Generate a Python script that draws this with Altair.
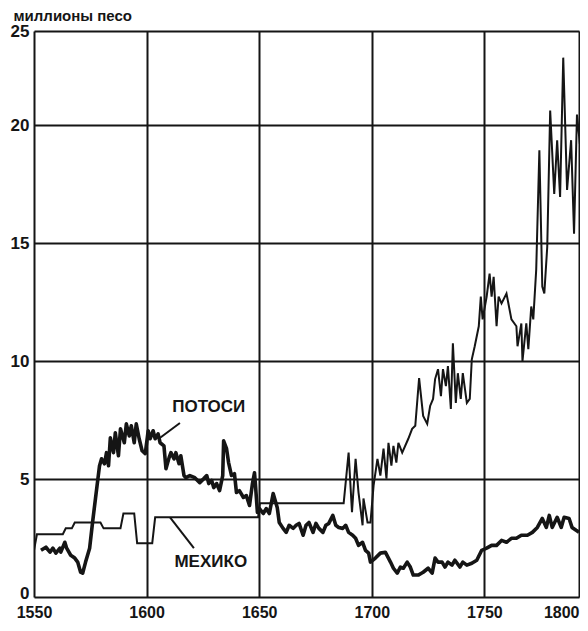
import altair as alt
import pandas as pd

# --- data ---
mex_years = [1550.0, 1551.3, 1562.8, 1564.1, 1566.8, 1568.1, 1579.5, 1580.9, 1588.4, 1589.7,
             1594.5, 1595.8, 1602.5, 1603.8, 1649.5, 1650.3, 1687.5, 1689.7, 1691.2, 1692.8,
             1694.1, 1695.9, 1696.3, 1698.1, 1699.4, 1700.8, 1702.5, 1703.8, 1705.2, 1706.5,
             1707.4, 1708.7, 1709.6, 1710.9, 1711.8, 1713.5, 1716.2, 1717.9, 1719.3, 1721.0,
             1722.8, 1724.6, 1725.9, 1727.2, 1728.1, 1729.4, 1730.7, 1731.6, 1732.9, 1733.8,
             1735.1, 1736.0, 1737.3, 1738.2, 1739.5, 1740.4, 1742.2, 1743.5, 1744.4, 1745.7,
             1747.5, 1748.4, 1749.2, 1751.0, 1752.3, 1753.2, 1754.1, 1755.4, 1756.3, 1757.6,
             1759.8, 1762.0, 1764.2, 1764.7, 1766.4, 1766.9, 1768.6, 1769.5, 1770.8, 1771.7,
             1773.0, 1774.4, 1775.7, 1776.6, 1777.9, 1779.2, 1781.0, 1782.3, 1783.6, 1785.0,
             1786.7, 1788.5, 1789.8, 1791.1, 1792.4]
mex_vals = [1.98, 2.66, 2.66, 2.91, 2.91, 3.16, 3.16, 2.91, 2.91, 3.54,
            3.54, 2.28, 2.28, 3.38, 3.38, 3.97, 3.97, 6.12, 3.60, 5.86,
            4.43, 3.04, 4.18, 3.16, 3.16, 4.73, 5.86, 5.15, 6.29, 5.02,
            6.54, 5.57, 6.41, 5.70, 6.54, 6.12, 6.71, 7.13, 7.26, 9.28,
            7.68, 7.34, 8.10, 8.40, 9.24, 9.66, 8.52, 9.66, 8.94, 9.79,
            7.97, 10.76, 8.23, 9.49, 8.40, 9.49, 8.23, 8.40, 10.08, 10.63,
            11.48, 12.74, 11.77, 12.74, 13.71, 12.74, 13.58, 11.48, 12.74, 12.45,
            12.87, 11.77, 11.48, 10.63, 11.60, 10.00, 11.60, 10.51, 12.32, 11.77,
            13.88, 18.94, 13.16, 12.87, 14.85, 20.63, 17.09, 19.37, 16.96, 22.87,
            17.26, 19.37, 15.40, 20.46, 19.20]

pot_years = [1553.1, 1555.3, 1557.1, 1558.4, 1559.7, 1561.5, 1561.9, 1563.7, 1564.5, 1566.3,
             1568.1, 1569.4, 1570.7, 1571.6, 1572.9, 1574.7, 1576.0, 1577.3, 1579.1, 1580.0,
             1581.3, 1582.2, 1583.1, 1583.9, 1585.3, 1586.1, 1587.5, 1588.4, 1590.1, 1591.0,
             1592.3, 1593.2, 1594.5, 1595.4, 1596.7, 1598.0, 1599.4, 1600.7, 1601.6, 1602.9,
             1603.8, 1605.1, 1606.0, 1607.7, 1608.6, 1610.0, 1610.8, 1612.2, 1613.0, 1614.4,
             1615.2, 1616.6, 1617.4, 1619.2, 1621.4, 1623.6, 1625.4, 1626.7, 1627.6, 1628.9,
             1629.8, 1631.1, 1632.4, 1633.8, 1634.2, 1635.5, 1636.4, 1637.7, 1639.0, 1639.9,
             1641.2, 1643.0, 1644.3, 1645.7, 1647.0, 1647.9, 1648.3, 1649.2, 1650.1, 1651.8,
             1653.1, 1654.5, 1656.2, 1658.0, 1658.9, 1660.6, 1662.0, 1663.3, 1665.1, 1666.4,
             1667.7, 1669.5, 1670.8, 1672.1, 1673.9, 1675.2, 1676.5, 1678.3, 1679.6, 1680.9,
             1682.7, 1684.0, 1685.3, 1687.1, 1688.4, 1689.7, 1691.5, 1692.8, 1694.1, 1695.9,
             1697.2, 1698.6, 1699.4, 1701.6, 1703.8, 1706.0, 1708.3, 1709.6, 1711.3, 1712.7,
             1714.0, 1715.7, 1717.1, 1718.4, 1720.6, 1722.8, 1725.0, 1726.8, 1728.1, 1729.4,
             1731.2, 1732.5, 1733.8, 1735.6, 1736.9, 1739.1, 1740.4, 1742.2, 1744.4, 1746.6,
             1748.8, 1751.0, 1753.2, 1755.4, 1757.6, 1759.8, 1762.0, 1764.2, 1766.4, 1769.1,
             1771.3, 1773.5, 1775.7, 1777.5, 1778.8, 1780.1, 1782.3, 1784.1, 1785.4, 1787.6,
             1788.9, 1790.7, 1792.0]
pot_vals = [1.98, 2.11, 1.90, 2.07, 1.86, 2.07, 1.90, 2.32, 2.07, 1.77,
            1.65, 1.48, 1.05, 1.01, 1.48, 2.07, 3.16, 4.18, 5.57, 5.86,
            5.65, 6.12, 5.57, 6.75, 6.12, 6.96, 5.99, 7.13, 6.54, 7.34,
            6.83, 7.26, 6.54, 7.34, 6.71, 6.20, 6.08, 7.05, 6.71, 7.05,
            6.71, 6.92, 6.54, 6.41, 5.44, 5.91, 6.12, 5.86, 6.12, 5.65,
            5.99, 5.15, 5.06, 5.15, 5.06, 4.85, 5.02, 5.15, 4.81, 4.94,
            4.64, 4.81, 4.51, 5.15, 6.62, 6.29, 5.70, 5.15, 5.23, 4.43,
            4.51, 4.22, 4.30, 3.88, 4.81, 5.27, 4.81, 3.59, 3.75, 3.54,
            3.75, 3.54, 4.39, 3.80, 3.16, 2.91, 2.74, 3.04, 2.91, 3.04,
            3.12, 2.62, 3.04, 3.16, 2.74, 3.12, 2.91, 2.74, 3.04, 3.12,
            3.46, 3.04, 2.95, 2.91, 3.04, 2.74, 2.62, 2.49, 2.19, 2.32,
            1.98, 1.86, 1.48, 1.65, 1.86, 1.90, 1.48, 1.22, 1.01, 1.27,
            1.22, 1.48, 1.27, 0.93, 0.93, 1.05, 1.22, 1.01, 1.65, 1.48,
            1.48, 1.27, 1.48, 1.35, 1.56, 1.27, 1.48, 1.35, 1.43, 1.56,
            1.98, 2.07, 2.19, 2.19, 2.40, 2.32, 2.49, 2.49, 2.62, 2.62,
            2.74, 2.95, 3.33, 2.95, 3.46, 2.95, 3.38, 2.95, 3.38, 3.33,
            2.95, 2.83, 2.75]

label_texts = ["ПОТОСИ", "МЕХИКО"]
label_x = [1627.6, 1628.5]
label_y = [8.06, 1.48]

pointer_x = [1614.8, 1621.0]
pointer_y = [7.38, 2.07]
pointer_x2 = [1606.0, 1610.4]
pointer_y2 = [6.75, 3.38]

x_ticks = [1550, 1600, 1650, 1700, 1750, 1792]
y_ticks = [0, 5, 10, 15, 20, 24]

FONT = "Liberation Sans"
INK = "#151515"

mex = pd.DataFrame({"year": mex_years, "value": mex_vals, "i": range(len(mex_years))})
pot = pd.DataFrame({"year": pot_years, "value": pot_vals, "i": range(len(pot_years))})
labels = pd.DataFrame({"x": label_x, "y": label_y, "t": label_texts})
pointers = pd.DataFrame({"x": pointer_x, "y": pointer_y, "x2": pointer_x2, "y2": pointer_y2})

xscale = alt.Scale(domain=[1550, 1792], nice=False, zero=False)
yscale = alt.Scale(domain=[0, 24], nice=False)

xaxis = alt.Axis(values=x_ticks, format="d",
                 labelExpr="datum.value == 1792 ? '1800' : datum.label",
                 grid=True, gridColor=INK, gridWidth=2, gridOpacity=1,
                 domain=False, ticks=False, tickSize=0, labelPadding=7,
                 labelFont=FONT, labelFontSize=16, labelFontWeight="bold", labelColor=INK,
                 labelOverlap=False,
                 labelAlign={"condition": {"test": "datum.value > 1780", "value": "right"}, "value": "center"},
                 title=None)
yaxis = alt.Axis(values=y_ticks, format="d",
                 labelExpr="datum.value == 24 ? '25' : datum.label",
                 grid=True, gridColor=INK, gridWidth=2, gridOpacity=1,
                 domain=False, ticks=False, tickSize=0, labelPadding=5,
                 labelFont=FONT, labelFontSize=17, labelFontWeight="bold", labelColor=INK,
                 labelOverlap=False,
                 labelOffset={"condition": {"test": "datum.value == 0", "value": -4}, "value": 0},
                 title="миллионы песо", titleAngle=0, titleAlign="left", titleBaseline="alphabetic",
                 titleX=-21, titleY=-11, titleFont=FONT, titleFontSize=15, titleFontWeight="bold",
                 titleColor=INK)

mex_line = alt.Chart(mex).mark_line(color=INK, strokeWidth=2, clip=True).encode(
    x=alt.X("year:Q", scale=xscale, axis=xaxis),
    y=alt.Y("value:Q", scale=yscale, axis=yaxis),
    order="i:Q",
)
pot_line = alt.Chart(pot).mark_line(color=INK, strokeWidth=3.6, clip=True, strokeJoin="round").encode(
    x=alt.X("year:Q", scale=xscale),
    y=alt.Y("value:Q", scale=yscale),
    order="i:Q",
)
ptr = alt.Chart(pointers).mark_rule(color=INK, strokeWidth=2).encode(
    x=alt.X("x:Q", scale=xscale), y=alt.Y("y:Q", scale=yscale), x2="x2:Q", y2="y2:Q"
)
txt = alt.Chart(labels).mark_text(font=FONT, fontSize=17, fontWeight="bold", color=INK,
                                   align="center", baseline="middle").encode(
    x=alt.X("x:Q", scale=xscale), y=alt.Y("y:Q", scale=yscale), text="t:N"
)

chart = alt.layer(mex_line, pot_line, ptr, txt).properties(
    width=545, height=566,
    autosize=alt.AutoSizeParams(type="none"),
    padding={"left": 26, "top": 23, "right": 1, "bottom": 25},
).configure_view(stroke=INK, strokeWidth=2).configure(background="white")

chart.save("out.html", embed_options={"renderer": "svg", "actions": False})
